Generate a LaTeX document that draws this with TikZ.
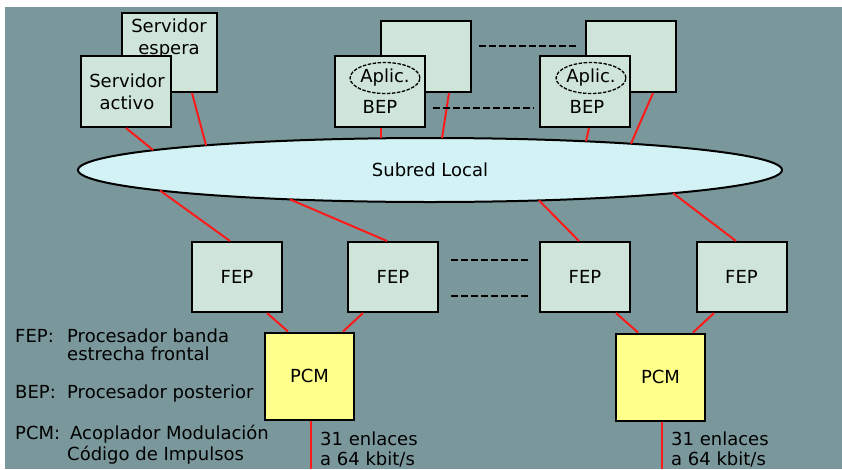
\documentclass[tikz,border=0pt]{standalone}
\usepackage{fontspec}
\setmainfont{DejaVu Sans}
\usetikzlibrary{shapes.geometric}
\definecolor{fondo}{HTML}{7A989C}
\definecolor{cajafill}{HTML}{D0E5DA}
\definecolor{redfill}{HTML}{D2F2F5}
\definecolor{pcmfill}{HTML}{FFFF8C}
\definecolor{rojo}{HTML}{FF1A1A}
\newcommand{\txt}{\fontsize{18}{22}\selectfont}
\tikzset{caja/.style={draw=black,line width=2pt,fill=cajafill,inner sep=0,
    minimum width=90pt,minimum height=71pt},
  pcm/.style={caja,fill=pcmfill,minimum width=89pt,minimum height=87pt},
  subredes/.style={ellipse,draw=black,line width=2pt,fill=redfill,inner sep=0,
    minimum width=704pt,minimum height=64pt},
  aplic/.style={ellipse,draw=black,line width=1.3pt,dash pattern=on 3.5pt off 1.5pt,
    inner sep=0,minimum width=66pt,minimum height=31pt},
  enlace/.style={rojo,line width=2pt},
  guion/.style={black,line width=1.6pt,dash pattern=on 7pt off 3pt},
  leyenda/.style={anchor=base west,inner sep=0}}

\begin{document}
\begin{tikzpicture}[x=1pt,y=-1pt,font=\txt]
\useasboundingbox (0,0) rectangle (842,469);
\fill[fondo] (5,7) rectangle (842,469);
\node[caja,minimum width=95pt,minimum height=79pt] (espera) at (169.5,52.5) {};
\node[align=center,inner sep=0] (esperatxt) at (169,38.5) {Servidor\\espera};
\node[caja] (activo) at (126,91.5) {};
\node[align=center,inner sep=0] (activotxt) at (127,92) {Servidor\\activo};
\node[caja] (fondoA) at (425.5,56.5) {};
\node[caja] (bepA) at (379.5,91.5) {};
\node[aplic] (aplicA) at (385,78) {Aplic.};
\node[inner sep=0] (bepAtxt) at (380,107) {BEP};
\node[caja] (fondoB) at (630.5,56.5) {};
\node[caja] (bepB) at (585,91.5) {};
\node[aplic] (aplicB) at (591,78) {Aplic.};
\node[inner sep=0] (bepBtxt) at (587,107) {BEP};
\node[subredes] (subred) at (430,170) {Subred Local};
\foreach \n/\x in {1/237,2/393,3/585,4/741.5}
  \node[caja,minimum height=70pt] (fep\n) at (\x,277) {FEP};
\node[pcm] (pcm1) at (309.5,376) {PCM};
\node[pcm] (pcm2) at (660.5,377) {PCM};
\coordinate (fin1) at (311,469);
\coordinate (fin2) at (662,469);
\draw[enlace] (activo.south) -- ([xshift=-277pt,yshift=20pt]subred.center);
\draw[enlace] ([xshift=22.5pt]espera.south) -- ([xshift=-224pt,yshift=24.7pt]subred.center);
\draw[enlace] ([xshift=1.5pt]bepA.south) -- ([xshift=-49pt,yshift=31.7pt]subred.center);
\draw[enlace] ([xshift=23.5pt]fondoA.south) -- ([xshift=12pt,yshift=32pt]subred.center);
\draw[enlace] ([xshift=4pt]bepB.south) -- ([xshift=156pt,yshift=28.7pt]subred.center);
\draw[enlace] ([xshift=22.5pt]fondoB.south) -- ([xshift=201pt,yshift=26.3pt]subred.center);
\draw[enlace] ([xshift=-270pt,yshift=-20.5pt]subred.center) -- ([xshift=-7pt]fep1.north);
\draw[enlace] ([xshift=-140pt,yshift=-29.4pt]subred.center) -- ([xshift=-6pt]fep2.north);
\draw[enlace] ([xshift=109pt,yshift=-30.4pt]subred.center) -- ([xshift=-6pt]fep3.north);
\draw[enlace] ([xshift=243pt,yshift=-23.1pt]subred.center) -- ([xshift=-5.5pt]fep4.north);
\draw[enlace] ([xshift=30pt]fep1.south) -- ([xshift=-21.5pt]pcm1.north);
\draw[enlace] ([xshift=-30pt]fep2.south) -- ([xshift=33.5pt]pcm1.north);
\draw[enlace] ([xshift=31pt]fep3.south) -- ([xshift=-22.5pt]pcm2.north);
\draw[enlace] ([xshift=-27.5pt]fep4.south) -- ([xshift=32.5pt]pcm2.north);
\draw[enlace] ([xshift=1.5pt]pcm1.south) -- (fin1);
\draw[enlace] ([xshift=1.5pt]pcm2.south) -- (fin2);
\draw[guion,shorten <=7pt,shorten >=6pt] ([yshift=10.5pt]fondoA.east) -- ([yshift=10.5pt]fondoB.west);
\draw[guion,shorten <=7pt,shorten >=6pt] ([yshift=-16.5pt]bepA.east) -- ([yshift=-16.5pt]bepB.west);
\draw[guion,shorten <=12pt,shorten >=9pt] ([yshift=17pt]fep2.east) -- ([yshift=17pt]fep3.west);
\draw[guion,shorten <=12pt,shorten >=9pt] ([yshift=-19pt]fep2.east) -- ([yshift=-19pt]fep3.west);
\node[leyenda] (enlacesA) at (320,445) {31 enlaces};
\node[leyenda] (kbitA) at (320,465) {a 64 kbit/s};
\node[leyenda] (enlacesB) at (671,445) {31 enlaces};
\node[leyenda] (kbitB) at (671,465) {a 64 kbit/s};
\node[leyenda] (leyFEP) at (15,342) {FEP:};
\node[leyenda] (leyFEPa) at (67,342) {Procesador banda};
\node[leyenda] (leyFEPb) at (67,360) {estrecha frontal};
\node[leyenda] (leyBEP) at (15,398) {BEP:};
\node[leyenda] (leyBEPa) at (67,398) {Procesador posterior};
\node[leyenda] (leyPCM) at (15,439) {PCM:};
\node[leyenda] (leyPCMa) at (70,439) {Acoplador Modulación};
\node[leyenda] (leyPCMb) at (67,460) {Código de Impulsos};
\end{tikzpicture}
\end{document}
